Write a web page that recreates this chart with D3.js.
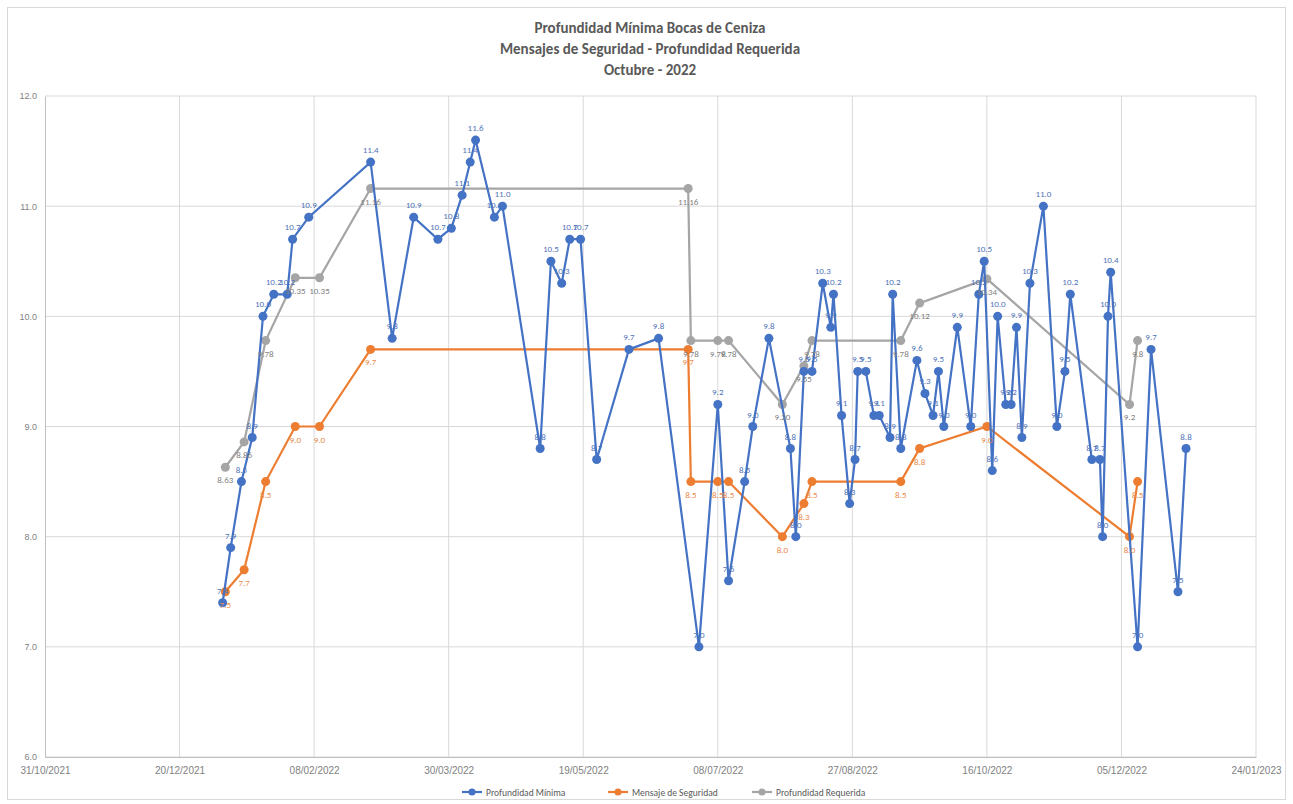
<!DOCTYPE html>
<html><head><meta charset="utf-8">
<script src="https://cdn.jsdelivr.net/npm/d3@7"></script>
<style>
html,body{margin:0;padding:0;background:#fff;}
svg{display:block;font-family:Calibri,Carlito,"Liberation Sans","DejaVu Sans",sans-serif;}
</style></head>
<body>
<script>
const titleLines = ["Profundidad Mínima Bocas de Ceniza","Mensajes de Seguridad - Profundidad Requerida","Octubre -  2022"];
const seriesNames = ["Profundidad Mínima","Mensaje de Seguridad","Profundidad Requerida"];

const minimaDates = ["2022-01-05","2022-01-08","2022-01-12","2022-01-16","2022-01-20","2022-01-24","2022-01-29","2022-01-31","2022-02-06","2022-03-01",
"2022-03-09","2022-03-17","2022-03-26","2022-03-31","2022-04-04","2022-04-07","2022-04-09","2022-04-16","2022-04-19","2022-05-03",
"2022-05-07","2022-05-11","2022-05-14","2022-05-18","2022-05-24","2022-06-05","2022-06-16","2022-07-01","2022-07-08","2022-07-12",
"2022-07-18","2022-07-21","2022-07-27","2022-08-04","2022-08-06","2022-08-09","2022-08-12","2022-08-16","2022-08-19","2022-08-20",
"2022-08-23","2022-08-26","2022-08-28","2022-08-29","2022-09-01","2022-09-04","2022-09-06","2022-09-10","2022-09-11","2022-09-14",
"2022-09-20","2022-09-23","2022-09-26","2022-09-28","2022-09-30","2022-10-05","2022-10-10","2022-10-13","2022-10-15","2022-10-18",
"2022-10-20","2022-10-23","2022-10-25","2022-10-27","2022-10-29","2022-11-01","2022-11-06","2022-11-11","2022-11-14","2022-11-16",
"2022-11-24","2022-11-27","2022-11-28","2022-11-30","2022-12-01","2022-12-11","2022-12-16","2022-12-26","2022-12-29"];
const minimaValues = [7.4,7.9,8.5,8.9,10.0,10.2,10.2,10.7,10.9,11.4,
9.8,10.9,10.7,10.8,11.1,11.4,11.6,10.9,11.0,8.8,
10.5,10.3,10.7,10.7,8.7,9.7,9.8,7.0,9.2,7.6,
8.5,9.0,9.8,8.8,8.0,9.5,9.5,10.3,9.9,10.2,
9.1,8.3,8.7,9.5,9.5,9.1,9.1,8.9,10.2,8.8,
9.6,9.3,9.1,9.5,9.0,9.9,9.0,10.2,10.5,8.6,
10.0,9.2,9.2,9.9,8.9,10.3,11.0,9.0,9.5,10.2,
8.7,8.7,8.0,10.0,10.4,7.0,9.7,7.5,8.8];

const mensajeDates = ["2022-01-06","2022-01-13","2022-01-21","2022-02-01","2022-02-10","2022-03-01","2022-06-27","2022-06-28","2022-07-08","2022-07-12",
"2022-08-01","2022-08-09","2022-08-12","2022-09-14","2022-09-21","2022-10-16","2022-12-08","2022-12-11"];
const mensajeValues = [7.5,7.7,8.5,9.0,9.0,9.7,9.7,8.5,8.5,8.5,8.0,8.3,8.5,8.5,8.8,9.0,8.0,8.5];
const requeridaValues = [8.63,8.86,9.78,10.35,10.35,11.16,11.16,9.78,9.78,9.78,9.20,9.55,9.78,9.78,10.12,10.34,9.2,9.78];
const requeridaLabels = ["8.63","8.86","9.78","10.35","10.35","11.16","11.16","9.78","9.78","9.78","9.20","9.55","9.78","9.78","10.12","10.34","9.2","9.8"];

const xTickLabels = ["31/10/2021","20/12/2021","08/02/2022","30/03/2022","19/05/2022","08/07/2022","27/08/2022","16/10/2022","05/12/2022","24/01/2023"];
const yTicks = [6,7,8,9,10,11,12];

const W = 1293, H = 804;
const colors = ["#4472C4","#ED7D31","#A5A5A5"];
const labelColors = ["#4f74b8","#e98a4a","#7f7f7f"];
const parse = d3.timeParse("%Y-%m-%d");
const parseTick = d3.timeParse("%d/%m/%Y");

const svg = d3.select("body").append("svg").attr("width",W).attr("height",H);
svg.append("rect").attr("x",7.5).attr("y",7.5).attr("width",W-15).attr("height",H-12).attr("fill","#fff").attr("stroke","#d9d9d9");

const tickDates = xTickLabels.map(parseTick);
const x = d3.scaleTime().domain([tickDates[0], tickDates[tickDates.length-1]]).range([45,1256]);
const y = d3.scaleLinear().domain([6,12]).range([757,96]);

// title
svg.append("g").selectAll("text").data(titleLines).join("text")
  .attr("x",650).attr("y",(d,i)=>33+i*21).attr("text-anchor","middle")
  .attr("font-size",15).attr("font-weight","bold").attr("fill","#595959").text(d=>d);

// grid
const grid = svg.append("g");
grid.selectAll("line.h").data(yTicks).join("line").attr("class","h")
  .attr("x1",45).attr("x2",1256).attr("y1",d=>y(d)).attr("y2",d=>y(d)).attr("stroke","#d9d9d9").attr("stroke-width",1);
grid.selectAll("line.v").data(tickDates.slice(1)).join("line").attr("class","v")
  .attr("x1",d=>x(d)).attr("x2",d=>x(d)).attr("y1",96).attr("y2",757).attr("stroke","#d9d9d9").attr("stroke-width",1);

// axes
const yAxis = d3.axisLeft(y).tickValues(yTicks).tickFormat(d3.format(".1f")).tickSize(0).tickPadding(8);
const gy = svg.append("g").attr("transform","translate(45,0)").call(yAxis);
gy.select(".domain").attr("stroke","#bfbfbf");
gy.selectAll("text").attr("font-size",9).attr("fill","#7f7f7f").attr("font-family","inherit");

const xAxis = d3.axisBottom(x).tickValues(tickDates).tickFormat((d,i)=>xTickLabels[i]).tickSize(0).tickPadding(10);
const gx = svg.append("g").attr("transform","translate(0,757)").call(xAxis);
gx.select(".domain").attr("stroke","#bfbfbf");
gx.selectAll("text").attr("font-size",10).attr("fill","#7f7f7f").attr("font-family","inherit");

const series = [
  {name:seriesNames[0], pts:minimaDates.map((d,i)=>({d:parse(d),v:minimaValues[i],l:d3.format(".1f")(minimaValues[i])})), dy:-9},
  {name:seriesNames[1], pts:mensajeDates.map((d,i)=>({d:parse(d),v:mensajeValues[i],l:d3.format(".1f")(mensajeValues[i])})), dy:16},
  {name:seriesNames[2], pts:mensajeDates.map((d,i)=>({d:parse(d),v:requeridaValues[i],l:requeridaLabels[i]})), dy:16}
];
const line = d3.line().x(p=>x(p.d)).y(p=>y(p.v));
const order = [2,1,0];
order.forEach(si=>{
  const s = series[si];
  const g = svg.append("g");
  g.append("path").datum(s.pts).attr("d",line).attr("fill","none").attr("stroke",colors[si]).attr("stroke-width",2.2);
  g.selectAll("circle").data(s.pts).join("circle").attr("cx",p=>x(p.d)).attr("cy",p=>y(p.v)).attr("r",4.5).attr("fill",colors[si]);
});
order.forEach(si=>{
  const s = series[si];
  svg.append("g").selectAll("text").data(s.pts).join("text")
    .attr("x",p=>x(p.d)).attr("y",p=>y(p.v)+s.dy).attr("text-anchor","middle")
    .attr("font-size",9).attr("fill",labelColors[si]).text(p=>p.l);
});

// legend
const legX = [462,608,752];
const lg = svg.append("g");
seriesNames.forEach((n,i)=>{
  const g = lg.append("g").attr("transform",`translate(${legX[i]},792)`);
  g.append("line").attr("x1",0).attr("x2",20).attr("y1",0).attr("y2",0).attr("stroke",colors[i]).attr("stroke-width",2.2);
  g.append("circle").attr("cx",10).attr("cy",0).attr("r",3.5).attr("fill",colors[i]);
  g.append("text").attr("x",24).attr("y",3.5).attr("font-size",9.5).attr("fill","#595959").text(n);
});
</script>
</body></html>
